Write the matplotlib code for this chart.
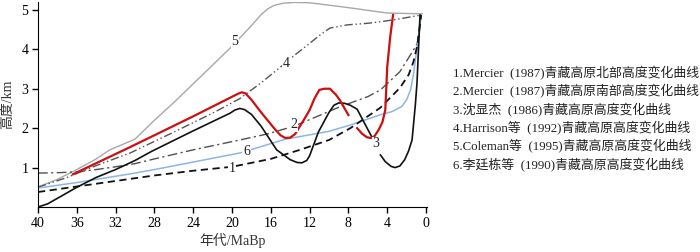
import numpy as np
import matplotlib
matplotlib.use('Agg')
import matplotlib.pyplot as plt

FAM = ['Liberation Serif', 'Noto Sans CJK SC']
plt.rcParams['font.family'] = FAM
plt.rcParams['font.size'] = 9

# curve 1 Mercier north (dashed)
age1 = [40, 36, 32, 28, 24, 20, 16, 13, 10, 7.8, 4.7, 2.7, 1.8, 1.3, 0.9, 0.5]
h1 = [0.38, 0.52, 0.66, 0.8, 0.92, 1.02, 1.22, 1.45, 1.7, 2.0, 2.52, 3.02, 3.35, 3.68, 4.1, 4.87]
# curve 2 Mercier south (dash-dot)
age2 = [40, 38, 36, 34, 32, 30, 28, 24, 19.2, 16.4, 13.6, 8.9, 6, 4.7, 2.7, 1.3, 0.9, 0.5]
h2 = [0.86, 0.87, 0.89, 0.95, 1.02, 1.1, 1.22, 1.45, 1.7, 1.85, 2.05, 2.54, 2.8, 2.97, 3.43, 3.98, 4.15, 4.87]
# curve 3 Shen Xianjie (black, with a break at label)
age3 = [40, 39, 38, 36, 34, 32, 30, 28.3, 24.1, 20.2, 19.7, 19.2, 18.7, 18, 17, 15.4, 14, 13.3, 12.8, 12.3, 12, 11.1, 10,
        9.5, 9.0, 8.4, 7.8, 7.1, 5.6,
        np.nan, 4.7, 4.2, 3.6, 3.2, 2.7, 2.2, 1.8, 1.44, 1.1, 0.93, 0.62]
h3 = [0.0, 0.08, 0.22, 0.5, 0.75, 0.95, 1.18, 1.41, 1.92, 2.38, 2.46, 2.5, 2.47, 2.35, 2.05, 1.45, 1.2, 1.13, 1.12, 1.18, 1.3, 1.9, 2.4,
      2.58, 2.64, 2.63, 2.58, 2.48, 1.78,
      np.nan, 1.32, 1.15, 1.03, 1.0, 1.04, 1.2, 1.42, 1.7, 2.6, 3.15, 4.87]
# curve 4 Harrison (dash-dot-dot)
age4 = [40, 37, 34, 30.5, 26, 22, 19.2, 17, 15, 13.5, 12, 11, 9.9, 8.1, 6, 4.7, 3, 0.5]
h4 = [0.5, 0.75, 1.05, 1.37, 1.9, 2.38, 2.75, 3.15, 3.55, 3.86, 4.15, 4.35, 4.54, 4.62, 4.66, 4.7, 4.76, 4.87]
# curve 5 Coleman (gray)
age5 = [40, 38, 36, 34, 32.6, 30, 28, 26, 23.6, 22, 20.2, 18, 17, 16.3, 15.6, 14.7, 13.5, 12, 10, 7.8, 4, 0.4]
h5 = [0.51, 0.7, 0.95, 1.22, 1.45, 1.72, 2.2, 2.65, 3.22, 3.6, 4.03, 4.6, 4.88, 5.03, 5.12, 5.17, 5.19, 5.18, 5.12, 5.05, 4.92, 4.9]
# curve 6 Li Tingdong (blue)
age6 = [40, 36, 32, 30, 28, 24, 19.2, 18.5, 14.5, 10, 7.8, 4.7, 3.5, 2.5, 2.0, 1.6, 1.3, 1.1, 0.8, 0.5]
h6 = [0.48, 0.62, 0.78, 0.86, 0.95, 1.14, 1.37, 1.42, 1.72, 1.92, 2.08, 2.34, 2.42, 2.55, 2.72, 2.97, 3.35, 3.73, 4.24, 4.87]
# red curve
age_r = [36.4, 30.5, 24, 19.4, 19.0, 18.6, 18.0, 17, 15.5, 15.0, 14.5, 14.0, 13.5, 12.5, 12, 11.5, 11.0, 10.5, 9.9, 9.3, 8.9, 8.0,
         np.nan, 7.1, 6.6, 6.1, 5.7, 5.3, 4.9, 4.5, 4.2, 4.0, 3.7, 3.4]
h_r = [0.83, 1.52, 2.3, 2.87, 2.91, 2.88, 2.72, 2.4, 1.95, 1.82, 1.75, 1.76, 1.85, 2.25, 2.46, 2.75, 2.97, 3.0, 3.0, 2.85, 2.72, 2.33,
       np.nan, 2.0, 1.86, 1.77, 1.75, 1.8, 1.95, 2.15, 2.46, 3.55, 4.3, 4.87]

lab_txt = ['1', '2', '3', '4', '5', '6']
lab_age = [20.0, 13.6, 5.15, 14.4, 19.7, 18.5]
lab_h = [0.98, 2.08, 1.6, 3.65, 4.19, 1.42]

legend_txt = ['1.Mercier  (1987)青藏高原北部高度变化曲线',
              '2.Mercier  (1987)青藏高原南部高度变化曲线',
              '3.沈显杰  (1986)青藏高原高度变化曲线',
              '4.Harrison等  (1992)青藏高原高度变化曲线',
              '5.Coleman等  (1995)青藏高原高度变化曲线',
              '6.李廷栋等  (1990)青藏高原高度变化曲线']

fig = plt.figure(figsize=(7, 2.52), dpi=100)
ax = fig.add_axes([38/700, 45/252, 389/700, 205/252])

ax.plot(age5, h5, color='#a8a8a8', lw=1.0, zorder=2)
ax.plot(age4, h4, color='#555555', lw=1.0, dashes=(6, 2, 1, 2, 1, 2), zorder=2)
ax.plot(age2, h2, color='#505050', lw=1.0, dashes=(7, 2.5, 1.5, 2.5), zorder=2)
ax.plot(age6, h6, color='#8cb6e6', lw=1.1, zorder=2)
ax.plot(age1, h1, color='#111111', lw=1.3, dashes=(4, 2.5), zorder=2)
ax.plot(age3, h3, color='#111111', lw=1.2, zorder=3)
ax.plot(age_r, h_r, color='#cc1010', lw=1.6, zorder=3)

for t, a, h in zip(lab_txt, lab_age, lab_h):
    ax.text(a, h, t, fontsize=10, ha='center', va='center', color='#222222', zorder=4,
            bbox=dict(facecolor='white', edgecolor='none', pad=0.5))

ax.set_xlim(40, -0.1)
ax.set_ylim(0, 5.2)
ax.set_xticks([40, 36, 32, 28, 24, 20, 16, 12, 8, 4, 0])
ax.set_yticks([1, 2, 3, 4, 5])
ax.spines['top'].set_visible(False)
ax.spines['right'].set_visible(False)
ax.tick_params(direction='out', length=4, width=1, labelsize=10, pad=3)
ax.set_xlabel('年代/MaBp', fontsize=10, color='#333333', labelpad=2)
ax.set_ylabel('高度/km', fontsize=10, color='#333333', labelpad=5)

for k, s in enumerate(legend_txt):
    fig.text(453/700, 1 - (73 + 18.4*k)/252, s, fontsize=9.3, ha='left', va='center', color='#222222')

fig.savefig('out.png', dpi=100)
